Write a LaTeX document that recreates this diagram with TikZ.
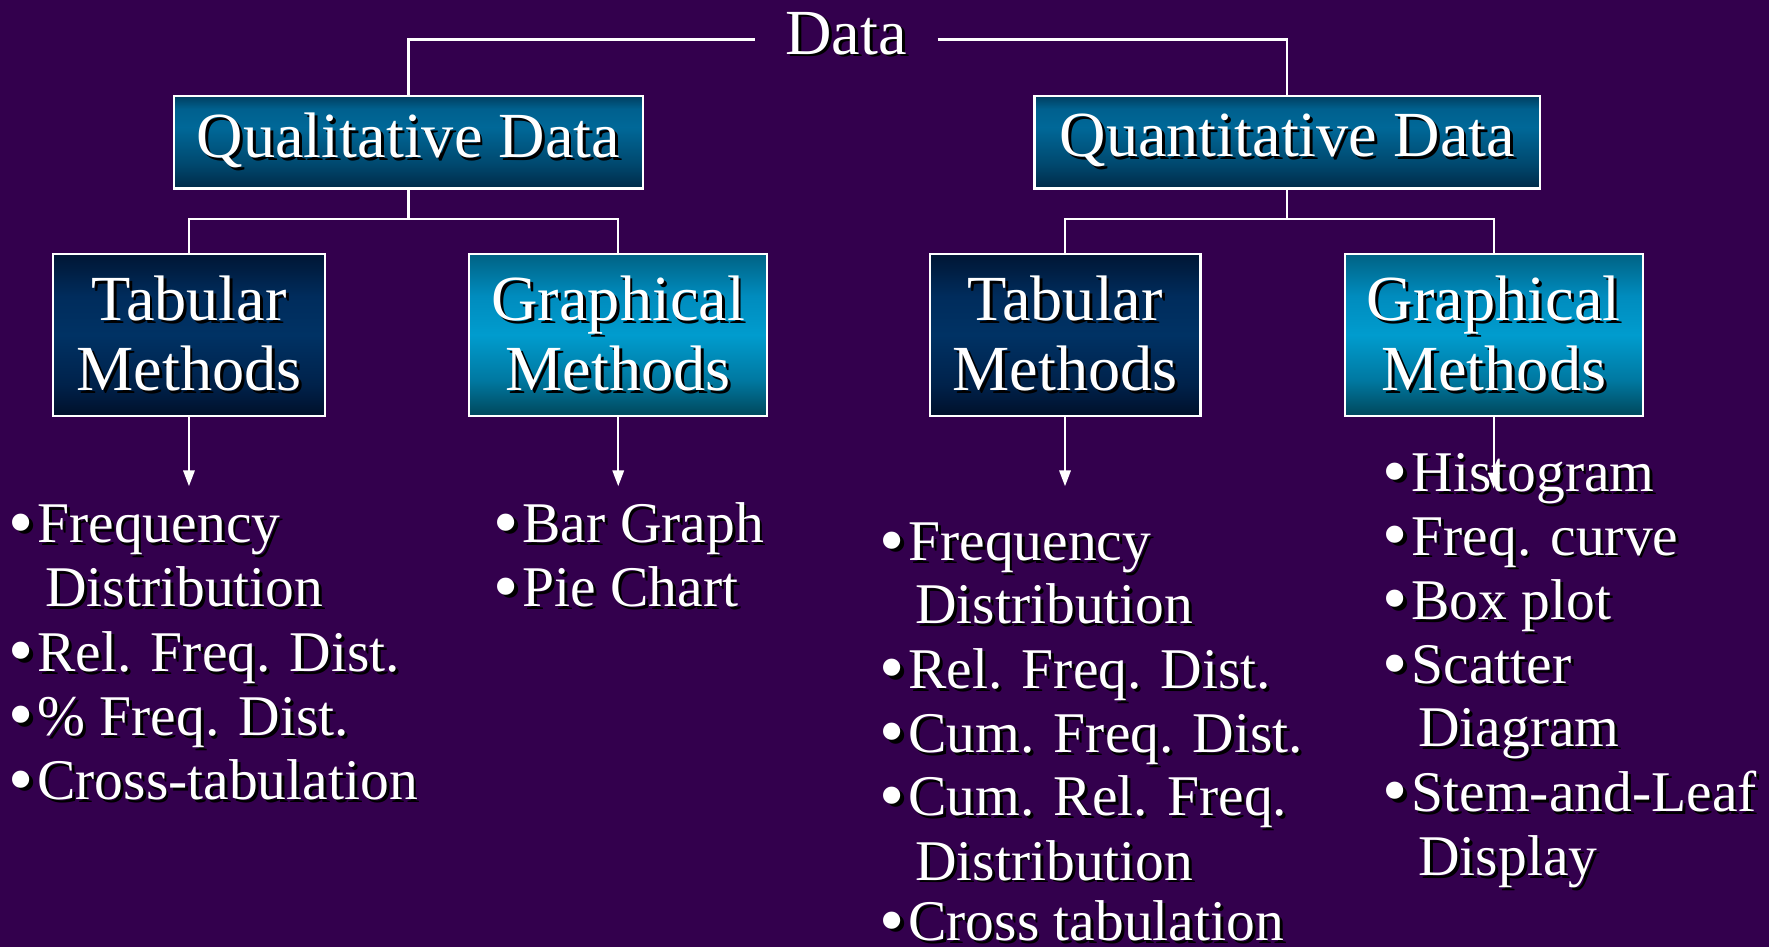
\documentclass[tikz,border=0pt]{standalone}
\usepackage{fontspec}
\setmainfont{Liberation Serif}
\usetikzlibrary{arrows.meta}
\definecolor{bg}{RGB}{51,0,77}
\definecolor{qA}{RGB}{0,42,72}
\definecolor{qB}{RGB}{0,72,110}
\definecolor{qC}{RGB}{0,104,152}
\definecolor{qD}{RGB}{0,96,142}
\definecolor{qE}{RGB}{0,62,95}
\definecolor{tA}{RGB}{0,16,42}
\definecolor{tB}{RGB}{0,34,75}
\definecolor{tC}{RGB}{0,50,100}
\definecolor{tD}{RGB}{0,44,92}
\definecolor{tE}{RGB}{0,22,52}
\definecolor{gA}{RGB}{0,70,90}
\definecolor{gB}{RGB}{0,120,160}
\definecolor{gC}{RGB}{0,156,206}
\definecolor{gD}{RGB}{0,140,190}
\definecolor{gE}{RGB}{0,98,132}
\pgfdeclareverticalshading{qualsh}{100bp}{color(0bp)=(qA); color(25bp)=(qA); color(38bp)=(qB); color(58bp)=(qC); color(68bp)=(qD); color(75bp)=(qE); color(100bp)=(qE)}
\pgfdeclareverticalshading{tabsh}{100bp}{color(0bp)=(tA); color(25bp)=(tA); color(35bp)=(tB); color(50bp)=(tC); color(62bp)=(tD); color(75bp)=(tE); color(100bp)=(tE)}
\pgfdeclareverticalshading{grash}{100bp}{color(0bp)=(gA); color(25bp)=(gA); color(36bp)=(gB); color(50bp)=(gC); color(62bp)=(gD); color(75bp)=(gE); color(100bp)=(gE)}
\newcommand\shtext[1]{\leavevmode\rlap{\kern2.5pt\raisebox{-2.5pt}{\textcolor{black}{#1}}}#1}
\newcommand\bul{\makebox[23pt][l]{\kern-2.5pt\raisebox{-3pt}{\scalebox{1.25}{\shtext{•}}}}}
\begin{document}
\begin{tikzpicture}[x=1pt,y=-1pt,
  box/.style={draw=white, line width=2pt, text=white, font=\fontsize{57}{62}\selectfont, align=center, inner sep=0pt},
  conn/.style={draw=white, line width=2pt},
  arr/.style={conn, -{Triangle[width=10pt,length=14pt]}},
  item/.style={text=white, font=\fontsize{51}{57}\selectfont, anchor=base west, inner sep=0pt}]
\fill[bg] (0,0) rectangle (1568,839);
\useasboundingbox (0,0) rectangle (1568,839);

\node[text=white, font=\fontsize{57}{62}\selectfont, inner xsep=27pt, inner ysep=0pt, text height=38pt, text depth=0pt] (data) at (750,29) {\shtext{Data}};

\node[box, minimum width=416pt, minimum height=82pt, shading=qualsh] (qual) at (362,126) {\shtext{Qualitative Data}};
\node[box, minimum width=448pt, minimum height=82pt, shading=qualsh] (quant) at (1141,126) {\shtext{Quantitative Data}};

\node[box, minimum width=241pt, minimum height=144pt, shading=tabsh] (tabL) at (167.5,297) {\shtext{Tabular}\\\shtext{Methods}};
\node[box, minimum width=264pt, minimum height=144pt, shading=grash] (graL) at (548,297) {\shtext{Graphical}\\\shtext{Methods}};
\node[box, minimum width=240pt, minimum height=144pt, shading=tabsh] (tabR) at (944,297) {\shtext{Tabular}\\\shtext{Methods}};
\node[box, minimum width=264pt, minimum height=144pt, shading=grash] (graR) at (1324,297) {\shtext{Graphical}\\\shtext{Methods}};

\draw[conn] ([yshift=-6pt]data.west) -| (qual.north);
\draw[conn] ([yshift=-6pt]data.east) -| (quant.north);
\draw[conn] (qual.south) -- ++(0,26) -| (tabL.north);
\draw[conn] (qual.south) ++(0,26) -| (graL.north);
\draw[conn] (quant.south) -- ++(0,26) -| (tabR.north);
\draw[conn] (quant.south) ++(0,26) -| (graR.north);

% left tabular list
\node[item] (a1) at (10,481) {\bul\shtext{Frequency}};
\node[item] (a2) at (40,538) {\shtext{Distribution}};
\node[item] (a3) at (10,595) {\bul\shtext{Rel. Freq. Dist.}};
\node[item] (a4) at (10,652) {\bul\shtext{\% Freq. Dist.}};
\node[item] (a5) at (10,709) {\bul\shtext{Cross-tabulation}};
% left graphical list
\node[item] (b1) at (440,481) {\bul\shtext{Bar Graph}};
\node[item] (b2) at (440,538) {\bul\shtext{Pie Chart}};
% right tabular list
\node[item] (c1) at (782,497) {\bul\shtext{Frequency}};
\node[item] (c2) at (811,553) {\shtext{Distribution}};
\node[item] (c3) at (782,610) {\bul\shtext{Rel. Freq. Dist.}};
\node[item] (c4) at (782,667) {\bul\shtext{Cum. Freq. Dist.}};
\node[item] (c5) at (782,723) {\bul\shtext{Cum. Rel. Freq.}};
\node[item] (c6) at (811,780) {\shtext{Distribution}};
\node[item] (c7) at (782,834) {\bul\shtext{Cross tabulation}};
% right graphical list
\node[item] (d1) at (1228,436) {\bul\shtext{Histogram}};
\node[item] (d2) at (1228,492) {\bul\shtext{Freq. curve}};
\node[item] (d3) at (1228,549) {\bul\shtext{Box plot}};
\node[item] (d4) at (1228,606) {\bul\shtext{Scatter}};
\node[item] (d5) at (1257,662) {\shtext{Diagram}};
\node[item] (d6) at (1228,719) {\bul\shtext{Stem-and-Leaf}};
\node[item] (d7) at (1257,776) {\shtext{Display}};

\draw[arr] (tabL.south) -- ++(0,61);
\draw[arr] (graL.south) -- ++(0,61);
\draw[arr] (tabR.south) -- ++(0,61);
\draw[arr] (graR.south) -- ++(0,63);
\end{tikzpicture}
\end{document}
